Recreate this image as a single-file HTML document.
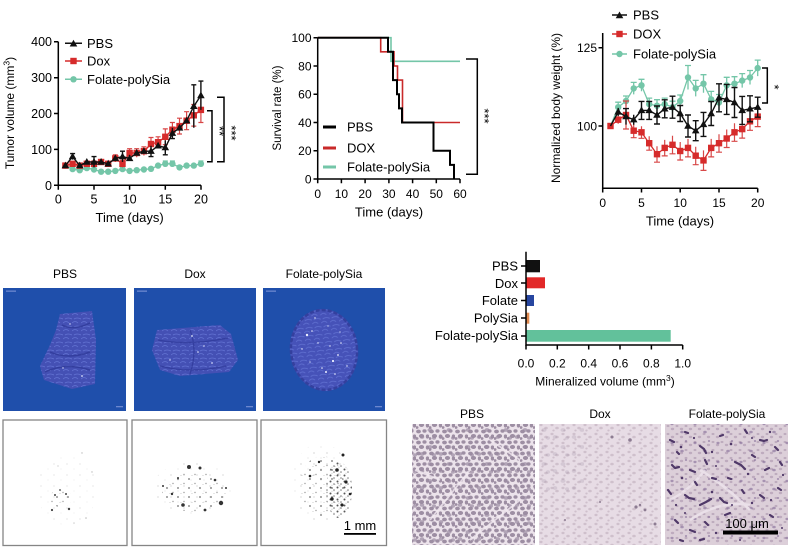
<!DOCTYPE html>
<html><head><meta charset="utf-8"><style>
html,body{margin:0;padding:0;background:#fff;}
svg{display:block;font-family:"Liberation Sans",Arial,sans-serif;}
</style></head><body>
<svg width="799" height="557" viewBox="0 0 799 557" xmlns="http://www.w3.org/2000/svg">
<defs>
<path id="tri" d="M0,-4 L3.8,2.7 L-3.8,2.7Z"/>
<rect id="sq" x="-3.2" y="-3.2" width="6.4" height="6.4"/>
<circle id="ci" r="3.2"/>
<pattern id="hpA" width="13" height="11" patternUnits="userSpaceOnUse">
<g fill="#8f7f97" fill-opacity="0.85">
<ellipse cx="2.5" cy="2.5" rx="2.4" ry="1.9"/><ellipse cx="8.5" cy="2" rx="2.1" ry="1.7"/><ellipse cx="5.5" cy="7" rx="2.6" ry="2"/><ellipse cx="11.5" cy="7.5" rx="1.7" ry="2.1"/><ellipse cx="1" cy="9.5" rx="1.5" ry="1.4"/></g></pattern>
<pattern id="hpB" width="19" height="17" patternUnits="userSpaceOnUse">
<g fill="#9a8aa2" fill-opacity="0.7"><ellipse cx="4" cy="12" rx="2.3" ry="1.9"/><ellipse cx="12" cy="5" rx="2.5" ry="1.9"/><ellipse cx="16" cy="13" rx="2" ry="1.7"/></g></pattern>
<pattern id="hdA" width="11" height="9" patternUnits="userSpaceOnUse">
<g fill="#cfc0cc"><ellipse cx="2" cy="2" rx="1.6" ry="1.2"/><ellipse cx="7" cy="5" rx="1.8" ry="1.3"/><ellipse cx="3.5" cy="7.5" rx="1.2" ry="1"/></g></pattern>
<pattern id="hfA" width="9" height="8" patternUnits="userSpaceOnUse">
<g fill="#b7a3b8" fill-opacity="0.8"><ellipse cx="2" cy="2" rx="1.5" ry="1.1"/><ellipse cx="6.5" cy="5" rx="1.7" ry="1.2"/></g></pattern>
<pattern id="hfB" width="23" height="19" patternUnits="userSpaceOnUse">
<g fill="#7a6090" fill-opacity="0.55"><ellipse cx="5" cy="6" rx="1.6" ry="1.2"/><ellipse cx="15" cy="14" rx="1.8" ry="1.3"/><ellipse cx="19" cy="4" rx="1.2" ry="1"/></g></pattern>
<pattern id="dpL" width="13" height="11" patternUnits="userSpaceOnUse">
<circle cx="2" cy="2" r="0.6" fill="#aaa"/><circle cx="9" cy="7" r="0.5" fill="#c2c2c2"/></pattern>
<pattern id="dpM" width="11" height="9" patternUnits="userSpaceOnUse">
<circle cx="2" cy="2" r="0.9" fill="#555"/><circle cx="8" cy="6.5" r="0.7" fill="#888"/><circle cx="5" cy="7.5" r="0.45" fill="#aaa"/></pattern>
<pattern id="dpD" width="7" height="6" patternUnits="userSpaceOnUse">
<circle cx="1.5" cy="1.5" r="1" fill="#3a3a3a"/><circle cx="5" cy="4" r="0.8" fill="#666"/><circle cx="3" cy="5.2" r="0.45" fill="#999"/></pattern>
<pattern id="bt" width="9" height="8" patternUnits="userSpaceOnUse">
<path d="M0,3 q3,-3 6,0 M2,7 q3,-2 7,0" stroke="#6272d2" stroke-width="0.8" fill="none"/></pattern>
</defs>

<!-- ================= Chart 1: Tumor volume ================= -->
<g>
<text transform="translate(14,113) rotate(-90)" font-size="12" text-anchor="middle">Tumor volume (mm<tspan font-size="8.5" dy="-4.5">3</tspan><tspan dy="4.5">)</tspan></text>
<g stroke="#000" stroke-width="1.5" fill="none">
<path d="M58.3,41.7 V185.3 H201"/>
<path d="M54,41.7 h4.3 M54,77.7 h4.3 M54,113.5 h4.3 M54,149.4 h4.3 M54,185.3 h4.3"/>
<path d="M58.3,185.3 v4.5 M94,185.3 v4.5 M129.6,185.3 v4.5 M165.3,185.3 v4.5 M201,185.3 v4.5"/>
</g>
<g font-size="12.5" text-anchor="end">
<text x="52" y="46.2">400</text><text x="52" y="82.2">300</text><text x="52" y="118">200</text><text x="52" y="153.9">100</text><text x="52" y="189.8">0</text>
</g>
<g font-size="12.5" text-anchor="middle">
<text x="58.3" y="203.5">0</text><text x="94" y="203.5">5</text><text x="129.6" y="203.5">10</text><text x="165.3" y="203.5">15</text><text x="201" y="203.5">20</text>
<text x="129.6" y="222" font-size="13">Time (days)</text>
</g>
<g stroke-width="1.5">
<line x1="65" y1="43.3" x2="82" y2="43.3" stroke="#111"/><use href="#tri" x="73.5" y="43.8" fill="#111"/>
<line x1="65" y1="61" x2="82" y2="61" stroke="#d62b2b"/><use href="#sq" x="73.5" y="61" fill="#d62b2b"/>
<line x1="65" y1="79.3" x2="82" y2="79.3" stroke="#74c6a8"/><use href="#ci" x="73.5" y="79.3" fill="#74c6a8"/>
</g>
<g font-size="13"><text x="87" y="47.8">PBS</text><text x="87" y="65.5">Dox</text><text x="87" y="83.8">Folate-polySia</text></g>
<g stroke="#74c6a8" fill="none" stroke-width="1.3">
<polyline points="65.4,165.6 72.6,169.1 79.7,170.2 86.8,168.1 94.0,169.5 101.1,171.7 108.2,171.7 115.3,170.9 122.5,169.1 129.6,170.9 136.7,170.2 143.9,169.5 151.0,168.8 158.1,165.6 165.3,163.8 172.4,163.8 179.5,167.4 186.6,165.6 193.8,165.6 200.9,163.8"/>
<path d="M158.1,163 v5.2 M165.3,161 v5.6 M172.4,161 v5.6 M179.5,164.8 v5.2 M193.8,163 v5.2 M200.9,161 v5.6 M162.8,161 h5 M169.9,161 h5 M198.4,161 h5"/>
</g>
<g fill="#74c6a8">
<use href="#ci" x="65.4" y="165.6"/><use href="#ci" x="72.6" y="169.1"/><use href="#ci" x="79.7" y="170.2"/><use href="#ci" x="86.8" y="168.1"/><use href="#ci" x="94.0" y="169.5"/><use href="#ci" x="101.1" y="171.7"/><use href="#ci" x="108.2" y="171.7"/><use href="#ci" x="115.3" y="170.9"/><use href="#ci" x="122.5" y="169.1"/><use href="#ci" x="129.6" y="170.9"/><use href="#ci" x="136.7" y="170.2"/><use href="#ci" x="143.9" y="169.5"/><use href="#ci" x="151.0" y="168.8"/><use href="#ci" x="158.1" y="165.6"/><use href="#ci" x="165.3" y="163.8"/><use href="#ci" x="172.4" y="163.8"/><use href="#ci" x="179.5" y="167.4"/><use href="#ci" x="186.6" y="165.6"/><use href="#ci" x="193.8" y="165.6"/><use href="#ci" x="200.9" y="163.8"/>
</g>
<g stroke="#d62b2b" fill="none" stroke-width="1.4">
<polyline points="65.4,165.6 72.6,163.8 79.7,165.6 86.8,163.8 94.0,163.8 101.1,162.0 108.2,163.8 115.3,158.4 122.5,163.8 129.6,153.0 136.7,153.0 143.9,151.2 151.0,144.0 158.1,142.2 165.3,136.8 172.4,129.7 179.5,126.1 186.6,120.7 193.8,115.3 200.9,109.9"/>
</g>
<g stroke="#d84545" fill="none" stroke-width="1.2">
<path d="M115.3,154.8 V162 M112.8,154.8 h5 M122.5,160.2 V167.4 M120,160.2 h5 M129.6,148.7 V157.3 M127.1,148.7 h5 M136.7,148.7 V157.3 M134.2,148.7 h5 M143.9,146.9 V155.5 M141.4,146.9 h5 M151,137.5 V150.5 M148.5,137.5 h5 M158.1,136.8 V147.6 M155.6,136.8 h5 M165.3,128.9 V144.7 M162.8,128.9 h5 M162.8,144.7 h5 M172.4,122.5 V136.9 M169.9,122.5 h5 M179.5,118.2 V134 M177,118.2 h5 M177,134 h5 M186.6,111.7 V129.7 M184.1,111.7 h5 M184.1,129.7 h5 M193.8,104.5 V126.1 M191.3,104.5 h5 M191.3,126.1 h5 M200.9,97.3 V122.5 M198.4,97.3 h5 M198.4,122.5 h5"/>
</g>
<g fill="#d62b2b">
<use href="#sq" x="65.4" y="165.6"/><use href="#sq" x="72.6" y="163.8"/><use href="#sq" x="79.7" y="165.6"/><use href="#sq" x="86.8" y="163.8"/><use href="#sq" x="94.0" y="163.8"/><use href="#sq" x="101.1" y="162.0"/><use href="#sq" x="108.2" y="163.8"/><use href="#sq" x="115.3" y="158.4"/><use href="#sq" x="122.5" y="163.8"/><use href="#sq" x="129.6" y="153.0"/><use href="#sq" x="136.7" y="153.0"/><use href="#sq" x="143.9" y="151.2"/><use href="#sq" x="151.0" y="144.0"/><use href="#sq" x="158.1" y="142.2"/><use href="#sq" x="165.3" y="136.8"/><use href="#sq" x="172.4" y="129.7"/><use href="#sq" x="179.5" y="126.1"/><use href="#sq" x="186.6" y="120.7"/><use href="#sq" x="193.8" y="115.3"/><use href="#sq" x="200.9" y="109.9"/>
</g>
<g stroke="#111" fill="none" stroke-width="1.4">
<polyline points="65.4,165.6 72.6,156.6 79.7,165.6 86.8,162.0 94.0,162.0 101.1,162.0 108.2,163.8 115.3,158.4 122.5,156.6 129.6,158.4 136.7,153.0 143.9,151.2 151.0,151.2 158.1,145.8 165.3,147.6 172.4,133.2 179.5,127.9 186.6,120.7 193.8,106.3 200.9,95.5"/>
<path d="M72.6,153.6 V159.6 M70.1,153.6 h5 M94,156.6 V167.4 M91.5,156.6 h5 M122.5,151.2 V162 M120,151.2 h5 M129.6,155 V161 M151,145.8 V156.6 M148.5,156.6 h5 M165.3,140.4 V154.8 M162.8,154.8 h5 M172.4,127.8 V138.6 M169.9,138.6 h5 M193.8,84.8 V127.8 M191.3,84.8 h5 M200.9,81.1 V109.9 M198.4,81.1 h5"/>
</g>
<g fill="#111">
<use href="#tri" x="65.4" y="165.6"/><use href="#tri" x="72.6" y="156.6"/><use href="#tri" x="79.7" y="165.6"/><use href="#tri" x="86.8" y="162.0"/><use href="#tri" x="94.0" y="162.0"/><use href="#tri" x="101.1" y="162.0"/><use href="#tri" x="108.2" y="163.8"/><use href="#tri" x="115.3" y="158.4"/><use href="#tri" x="122.5" y="156.6"/><use href="#tri" x="129.6" y="158.4"/><use href="#tri" x="136.7" y="153.0"/><use href="#tri" x="143.9" y="151.2"/><use href="#tri" x="151.0" y="151.2"/><use href="#tri" x="158.1" y="145.8"/><use href="#tri" x="165.3" y="147.6"/><use href="#tri" x="172.4" y="133.2"/><use href="#tri" x="179.5" y="127.9"/><use href="#tri" x="186.6" y="120.7"/><use href="#tri" x="193.8" y="106.3"/><use href="#tri" x="200.9" y="95.5"/>
</g>
<g stroke="#000" stroke-width="1.5" fill="none">
<path d="M207,110.7 H212 V161.7 H207"/>
<path d="M217,97.3 H224 V161.7 H217"/>
</g>
<text transform="translate(215,131) rotate(90)" font-size="13" text-anchor="middle">**</text>
<text transform="translate(227,133) rotate(90)" font-size="13" text-anchor="middle">***</text>
</g>

<!-- ================= Chart 2: Survival ================= -->
<g>
<text transform="translate(281,108) rotate(-90)" font-size="11.5" text-anchor="middle">Survival rate (%)</text>
<g stroke="#000" stroke-width="1.5" fill="none">
<path d="M317.7,37.7 V179 H460"/>
<path d="M313.5,37.7 h4.2 M313.5,66 h4.2 M313.5,94.2 h4.2 M313.5,122.5 h4.2 M313.5,150.7 h4.2 M313.5,179 h4.2"/>
<path d="M317.7,179 v4.2 M341.4,179 v4.2 M365.1,179 v4.2 M388.9,179 v4.2 M412.6,179 v4.2 M436.3,179 v4.2 M460,179 v4.2"/>
</g>
<g font-size="12" text-anchor="end">
<text x="311.5" y="42">100</text><text x="311.5" y="70.3">80</text><text x="311.5" y="98.5">60</text><text x="311.5" y="126.8">40</text><text x="311.5" y="155">20</text><text x="311.5" y="183.3">0</text>
</g>
<g font-size="12" text-anchor="middle">
<text x="317.7" y="198">0</text><text x="341.4" y="198">10</text><text x="365.1" y="198">20</text><text x="388.9" y="198">30</text><text x="412.6" y="198">40</text><text x="436.3" y="198">50</text><text x="460" y="198">60</text>
<text x="389" y="216.5" font-size="13">Time (days)</text>
</g>
<g fill="none">
<path d="M317.7,37.7 H391 V61.3 H460" stroke="#74c6a8" stroke-width="1.6"/>
<path d="M317.7,37.7 H380.7 V51.8 H394 V66 H397.5 V80.1 H402.5 V122.5 H460" stroke="#c92a2a" stroke-width="1.6"/>
<path d="M317.7,37.7 H388 V51.8 H393 V80.1 H397 V94.2 H399 V108.4 H402 V122.5 H433.5 V150.7 H450 V164.9 H454 V179" stroke="#000" stroke-width="2"/>
</g>
<g stroke-width="3">
<line x1="323" y1="127" x2="336" y2="127" stroke="#000"/>
<line x1="323" y1="148" x2="336" y2="148" stroke="#c92a2a"/>
<line x1="323" y1="167" x2="336" y2="167" stroke="#74c6a8"/>
</g>
<g font-size="13"><text x="347" y="131.5">PBS</text><text x="347" y="152.5">DOX</text><text x="347" y="171.5">Folate-polySia</text></g>
<path d="M466,59 H477.3 V174.3 H466" stroke="#000" stroke-width="1.5" fill="none"/>
<text transform="translate(480,116) rotate(90)" font-size="13" text-anchor="middle">***</text>
</g>

<!-- ================= Chart 3: Body weight ================= -->
<g>
<text transform="translate(560,108) rotate(-90)" font-size="12" text-anchor="middle">Normalized body weight (%)</text>
<g stroke="#000" stroke-width="1.5" fill="none">
<path d="M602.7,33 V188.3 H757.7"/>
<path d="M598.5,47.7 h4.2 M598.5,126 h4.2"/>
<path d="M602.7,188.3 v4.2 M641.5,188.3 v4.2 M680.2,188.3 v4.2 M719,188.3 v4.2 M757.7,188.3 v4.2"/>
</g>
<g font-size="12" text-anchor="end"><text x="597" y="52">125</text><text x="597" y="130.3">100</text></g>
<g font-size="12" text-anchor="middle">
<text x="602.7" y="207">0</text><text x="641.5" y="207">5</text><text x="680.2" y="207">10</text><text x="719" y="207">15</text><text x="757.7" y="207">20</text>
<text x="680" y="225.5" font-size="13">Time (days)</text>
</g>
<g stroke-width="1.5">
<line x1="612" y1="15" x2="627" y2="15" stroke="#111"/><use href="#tri" x="619.5" y="15.5" fill="#111"/>
<line x1="612" y1="34" x2="627" y2="34" stroke="#d62b2b"/><use href="#sq" x="619.5" y="34" fill="#d62b2b"/>
<line x1="612" y1="54" x2="627" y2="54" stroke="#74c6a8"/><use href="#ci" x="619.5" y="54" fill="#74c6a8"/>
</g>
<g font-size="13"><text x="633" y="19.5">PBS</text><text x="633" y="38.5">DOX</text><text x="633" y="58.5">Folate-polySia</text></g>
<g stroke="#74c6a8" fill="none" stroke-width="1.3">
<polyline points="610.5,126 618.2,107.2 626.0,101.0 633.7,88.4 641.5,85.3 649.2,104.1 657.0,105.7 664.7,104.1 672.5,107.2 680.2,101.0 688.0,77.5 695.7,88.4 703.5,83.7 711.2,99.4 719.0,102.5 726.7,85.3 734.5,83.7 742.2,80.6 750.0,77.5 757.7,68.1"/>
<path d="M618.2,102.2 V112.2 M615.2,102.2 h6 M626,96 V106 M623,96 h6 M633.7,82.4 V94.4 M630.7,82.4 h6 M641.5,79.3 V91.3 M638.5,79.3 h6 M649.2,98.1 V110.1 M646.2,98.1 h6 M657,99.7 V111.7 M654,99.7 h6 M664.7,98.1 V110.1 M661.7,98.1 h6 M672.5,101.2 V113.2 M669.5,101.2 h6 M680.2,95 V107 M677.2,95 h6 M688,65.5 V89.5 M685,65.5 h6 M695.7,80.4 V96.4 M692.7,80.4 h6 M703.5,74.7 V92.7 M700.5,74.7 h6 M711.2,91.4 V107.4 M708.2,91.4 h6 M719,94.5 V110.5 M716,94.5 h6 M726.7,77.3 V93.3 M723.7,77.3 h6 M734.5,76.7 V90.7 M731.5,76.7 h6 M742.2,73.6 V87.6 M739.2,73.6 h6 M750,70.5 V84.5 M747,70.5 h6 M757.7,60.1 V76.1 M754.7,60.1 h6"/>
</g>
<g fill="#74c6a8">
<use href="#ci" x="618.2" y="107.2"/><use href="#ci" x="626.0" y="101.0"/><use href="#ci" x="633.7" y="88.4"/><use href="#ci" x="641.5" y="85.3"/><use href="#ci" x="649.2" y="104.1"/><use href="#ci" x="657.0" y="105.7"/><use href="#ci" x="664.7" y="104.1"/><use href="#ci" x="672.5" y="107.2"/><use href="#ci" x="680.2" y="101.0"/><use href="#ci" x="688.0" y="77.5"/><use href="#ci" x="695.7" y="88.4"/><use href="#ci" x="703.5" y="83.7"/><use href="#ci" x="711.2" y="99.4"/><use href="#ci" x="719.0" y="102.5"/><use href="#ci" x="726.7" y="85.3"/><use href="#ci" x="734.5" y="83.7"/><use href="#ci" x="742.2" y="80.6"/><use href="#ci" x="750.0" y="77.5"/><use href="#ci" x="757.7" y="68.1"/>
</g>
<g stroke="#d62b2b" fill="none" stroke-width="1.3">
<polyline points="610.5,126 618.2,119.7 626.0,115.0 633.7,130.7 641.5,132.3 649.2,143.2 657.0,154.2 664.7,147.9 672.5,144.8 680.2,151.0 688.0,147.9 695.7,155.7 703.5,160.4 711.2,147.9 719.0,143.2 726.7,138.5 734.5,132.3 742.2,129.1 750.0,121.3 757.7,116.6"/>
</g>
<g stroke="#d84848" fill="none" stroke-width="1.2">
<path d="M618.2,115.7 V123.7 M626,101 V129 M623,101 h6 M623,129 h6 M633.7,123.7 V137.7 M630.7,137.7 h6 M641.5,126.3 V138.3 M638.5,138.3 h6 M649.2,136.2 V150.2 M646.2,150.2 h6 M657,146.2 V162.2 M654,162.2 h6 M664.7,139.9 V155.9 M661.7,155.9 h6 M672.5,135.8 V153.8 M669.5,153.8 h6 M680.2,142 V160 M677.2,160 h6 M688,138.9 V156.9 M685,156.9 h6 M695.7,146.7 V164.7 M692.7,164.7 h6 M703.5,150.4 V170.4 M700.5,170.4 h6 M711.2,138.9 V156.9 M708.2,156.9 h6 M719,134.2 V152.2 M716,152.2 h6 M726.7,129.5 V147.5 M723.7,147.5 h6 M734.5,123.3 V141.3 M731.5,141.3 h6 M742.2,120.1 V138.1 M739.2,138.1 h6 M750,112.3 V130.3 M747,130.3 h6 M757.7,106.6 V126.6 M754.7,126.6 h6"/>
</g>
<g fill="#d62b2b">
<use href="#sq" x="610.5" y="126"/><use href="#sq" x="618.2" y="119.7"/><use href="#sq" x="626.0" y="115.0"/><use href="#sq" x="633.7" y="130.7"/><use href="#sq" x="641.5" y="132.3"/><use href="#sq" x="649.2" y="143.2"/><use href="#sq" x="657.0" y="154.2"/><use href="#sq" x="664.7" y="147.9"/><use href="#sq" x="672.5" y="144.8"/><use href="#sq" x="680.2" y="151.0"/><use href="#sq" x="688.0" y="147.9"/><use href="#sq" x="695.7" y="155.7"/><use href="#sq" x="703.5" y="160.4"/><use href="#sq" x="711.2" y="147.9"/><use href="#sq" x="719.0" y="143.2"/><use href="#sq" x="726.7" y="138.5"/><use href="#sq" x="734.5" y="132.3"/><use href="#sq" x="742.2" y="129.1"/><use href="#sq" x="750.0" y="121.3"/><use href="#sq" x="757.7" y="116.6"/>
</g>
<g stroke="#111" fill="none" stroke-width="1.4">
<polyline points="610.5,126 618.2,111.9 626.0,116.6 633.7,119.7 641.5,110.4 649.2,110.4 657.0,115.0 664.7,108.8 672.5,107.2 680.2,113.5 688.0,126 695.7,130.7 703.5,124.4 711.2,113.5 719.0,97.8 726.7,99.4 734.5,102.5 742.2,110.4 750.0,108.8 757.7,107.2"/>
<path d="M618.2,107.9 V115.9 M626,108.6 V124.6 M623,108.6 h6 M633.7,114.7 V124.7 M641.5,101.4 V119.4 M638.5,101.4 h6 M638.5,119.4 h6 M649.2,101.4 V119.4 M646.2,101.4 h6 M646.2,119.4 h6 M657,106 V124 M654,106 h6 M654,124 h6 M664.7,99.8 V117.8 M661.7,99.8 h6 M661.7,117.8 h6 M672.5,96.2 V118.2 M669.5,96.2 h6 M669.5,118.2 h6 M680.2,105.5 V121.5 M677.2,105.5 h6 M677.2,121.5 h6 M688,115 V137 M685,115 h6 M685,137 h6 M695.7,120.7 V140.7 M692.7,120.7 h6 M692.7,140.7 h6 M703.5,112.4 V136.4 M700.5,112.4 h6 M700.5,136.4 h6 M711.2,101.5 V125.5 M708.2,101.5 h6 M708.2,125.5 h6 M719,83.8 V111.8 M716,83.8 h6 M716,111.8 h6 M726.7,84.4 V114.4 M723.7,84.4 h6 M723.7,114.4 h6 M734.5,87.5 V117.5 M731.5,87.5 h6 M731.5,117.5 h6 M742.2,96.4 V124.4 M739.2,96.4 h6 M739.2,124.4 h6 M750,95.8 V121.8 M747,95.8 h6 M747,121.8 h6 M757.7,97.2 V117.2 M754.7,97.2 h6 M754.7,117.2 h6"/>
</g>
<g fill="#111">
<use href="#tri" x="618.2" y="111.9"/><use href="#tri" x="626.0" y="116.6"/><use href="#tri" x="633.7" y="119.7"/><use href="#tri" x="641.5" y="110.4"/><use href="#tri" x="649.2" y="110.4"/><use href="#tri" x="657.0" y="115.0"/><use href="#tri" x="664.7" y="108.8"/><use href="#tri" x="672.5" y="107.2"/><use href="#tri" x="680.2" y="113.5"/><use href="#tri" x="688.0" y="126"/><use href="#tri" x="695.7" y="130.7"/><use href="#tri" x="703.5" y="124.4"/><use href="#tri" x="711.2" y="113.5"/><use href="#tri" x="719.0" y="97.8"/><use href="#tri" x="726.7" y="99.4"/><use href="#tri" x="734.5" y="102.5"/><use href="#tri" x="742.2" y="110.4"/><use href="#tri" x="750.0" y="108.8"/><use href="#tri" x="757.7" y="107.2"/>
</g>
<path d="M762,68 H767.3 V103 H762" stroke="#000" stroke-width="1.5" fill="none"/>
<text transform="translate(770,87) rotate(90)" font-size="13" text-anchor="middle">*</text>
</g>

<!-- ================= 3D micro-CT panels ================= -->
<g font-size="12" text-anchor="middle">
<text x="65" y="278">PBS</text><text x="195" y="278">Dox</text><text x="324" y="278">Folate-polySia</text>
</g>
<g fill="#1f4fab">
<rect x="3" y="288" width="123" height="123"/>
<rect x="134" y="288" width="122" height="123"/>
<rect x="263" y="288" width="122" height="123"/>
</g>
<g fill="#7f95d8" opacity="0.8">
<rect x="6" y="290.5" width="10" height="1.3"/><rect x="137" y="290.5" width="10" height="1.3"/><rect x="266" y="290.5" width="10" height="1.3"/>
<rect x="116" y="406" width="7" height="1.3"/><rect x="246" y="406" width="7" height="1.3"/><rect x="375" y="406" width="7" height="1.3"/>
</g>
<path d="M60,314 L92,311 L96,340 L95,384 L72,389 L44,380 L40,366 L50,345 L56,330Z" fill="#4450b4"/>
<path d="M60,314 L92,311 L96,340 L95,384 L72,389 L44,380 L40,366 L50,345 L56,330Z" fill="url(#bt)"/>
<path d="M45,372 q20,-10 45,-2 M50,352 q18,8 40,0 M62,325 q12,6 28,-2" stroke="#2f3a98" stroke-width="1.5" fill="none" opacity="0.8"/>
<g fill="#dfe4ff"><circle cx="82" cy="376" r="0.9"/><circle cx="63" cy="368" r="0.7"/><circle cx="70" cy="324" r="0.7"/></g>
<path d="M157,330 L220,325 L231,334 L238,360 L229,372 L180,376 L160,370 L152,350Z" fill="#4450b4"/>
<path d="M157,330 L220,325 L231,334 L238,360 L229,372 L180,376 L160,370 L152,350Z" fill="url(#bt)"/>
<path d="M158,340 q30,6 70,-2 M190,330 q8,20 0,44 M160,366 q30,8 66,0" stroke="#2f3a9a" stroke-width="1.3" fill="none" opacity="0.8"/>
<g fill="#e6eaff"><circle cx="192" cy="336" r="0.9"/><circle cx="198" cy="352" r="0.8"/><circle cx="212" cy="363" r="0.8"/><circle cx="170" cy="360" r="0.7"/><circle cx="204" cy="346" r="0.7"/></g>
<ellipse cx="324" cy="350" rx="34" ry="41" transform="rotate(-6 324 350)" fill="#4652b8"/>
<ellipse cx="324" cy="350" rx="34" ry="41" transform="rotate(-6 324 350)" fill="url(#bt)"/>
<ellipse cx="324" cy="350" rx="33" ry="40" transform="rotate(-6 324 350)" fill="none" stroke="#34409e" stroke-width="2.5" stroke-dasharray="4 2"/>
<g fill="#eef0ff"><circle cx="307" cy="335" r="1.2"/><circle cx="312" cy="331" r="0.8"/><circle cx="333" cy="361" r="1.1"/><circle cx="338" cy="355" r="0.9"/><circle cx="326" cy="372" r="1"/><circle cx="322" cy="368" r="0.8"/><circle cx="341" cy="343" r="0.8"/><circle cx="318" cy="343" r="0.7"/><circle cx="330" cy="346" r="0.7"/><circle cx="335" cy="374" r="0.8"/><circle cx="302" cy="349" r="0.7"/><circle cx="347" cy="366" r="0.7"/><circle cx="315" cy="318" r="0.7"/><circle cx="328" cy="326" r="0.6"/><circle cx="310" cy="362" r="0.6"/><circle cx="340" cy="332" r="0.6"/></g>

<!-- ================= Dot panels ================= -->
<g fill="#fff" stroke="#858585" stroke-width="1.3">
<rect x="3" y="420" width="124" height="125.5"/>
<rect x="132" y="420" width="125" height="125.5"/>
<rect x="261" y="420" width="125.5" height="125.5"/>
</g>
<ellipse cx="67" cy="490" rx="30" ry="35" fill="url(#dpL)" opacity="0.45"/>
<ellipse cx="61" cy="498" rx="11" ry="9" fill="url(#dpM)" opacity="0.8"/>
<g fill="#444"><circle cx="52" cy="510" r="1.1"/><circle cx="69" cy="509" r="1.2"/><circle cx="66" cy="494" r="1"/><circle cx="55" cy="495" r="1"/><circle cx="60" cy="490" r="0.9"/></g>
<g fill="#bbb"><circle cx="82" cy="453" r="0.7"/><circle cx="86" cy="518" r="0.8"/><circle cx="74" cy="523" r="0.6"/><circle cx="92" cy="472" r="0.7"/><circle cx="58" cy="466" r="0.6"/></g>
<ellipse cx="192" cy="488" rx="39" ry="26" fill="url(#dpL)" opacity="0.7"/>
<ellipse cx="194" cy="492" rx="32" ry="20" fill="url(#dpM)" opacity="0.85"/>
<g fill="#333"><circle cx="189" cy="467" r="2"/><circle cx="221" cy="503" r="2.2"/><circle cx="183" cy="505" r="1.8"/><circle cx="200" cy="468" r="1.5"/><circle cx="215" cy="480" r="1.3"/><circle cx="172" cy="494" r="1.2"/><circle cx="205" cy="510" r="1.4"/><circle cx="163" cy="486" r="1"/><circle cx="178" cy="478" r="1"/><circle cx="226" cy="488" r="1"/></g>
<ellipse cx="321" cy="482" rx="29" ry="39" fill="url(#dpL)" opacity="0.8"/>
<ellipse cx="322" cy="486" rx="22" ry="30" fill="url(#dpM)" opacity="0.85"/>
<ellipse cx="339" cy="490" rx="13" ry="28" fill="url(#dpD)" opacity="0.85"/>
<g fill="#222"><circle cx="343" cy="455" r="1.5"/><circle cx="337" cy="470" r="1.8"/><circle cx="346" cy="482" r="1.6"/><circle cx="332" cy="499" r="1.7"/><circle cx="342" cy="505" r="1.6"/><circle cx="310" cy="476" r="1.3"/><circle cx="319" cy="462" r="1.2"/><circle cx="350" cy="494" r="1.3"/></g>
<text x="360" y="530" font-size="13" text-anchor="middle">1 mm</text>
<rect x="344" y="533" width="32" height="1.8" fill="#000"/>

<!-- ================= Bar chart ================= -->
<g>
<rect x="526" y="260" width="14" height="12.3" fill="#111"/>
<rect x="526" y="277.3" width="19" height="11" fill="#e22828"/>
<rect x="526" y="295" width="8" height="11" fill="#2746a0"/>
<rect x="526" y="312.7" width="3.3" height="11" fill="#e08a50"/>
<rect x="526" y="330" width="144.7" height="11.7" fill="#62c19b"/>
<g stroke="#000" stroke-width="1.5" fill="none">
<path d="M526,251.7 V345 H682.7"/>
<path d="M521,266 h5 M521,283 h5 M521,300.5 h5 M521,318 h5 M521,336 h5"/>
<path d="M526,345 v4.5 M557.3,345 v4.5 M588.7,345 v4.5 M620,345 v4.5 M651.4,345 v4.5 M682.7,345 v4.5"/>
</g>
<g font-size="13" text-anchor="end">
<text x="518" y="270.5">PBS</text><text x="518" y="287.8">Dox</text><text x="518" y="304.8">Folate</text><text x="518" y="322.3">PolySia</text><text x="518" y="339.8">Folate-polySia</text>
</g>
<g font-size="12" text-anchor="middle">
<text x="526" y="367.5">0.0</text><text x="557.3" y="367.5">0.2</text><text x="588.7" y="367.5">0.4</text><text x="620" y="367.5">0.6</text><text x="651.4" y="367.5">0.8</text><text x="682.7" y="367.5">1.0</text>
<text x="605" y="385.5">Mineralized volume (mm<tspan font-size="8.5" dy="-4.5">3</tspan><tspan dy="4.5">)</tspan></text>
</g>
</g>

<!-- ================= Histology ================= -->
<g font-size="12" text-anchor="middle">
<text x="472" y="418">PBS</text><text x="600" y="418">Dox</text><text x="727" y="418">Folate-polySia</text>
</g>
<rect x="412" y="424" width="123" height="121" fill="#ece3eb"/>
<rect x="412" y="424" width="123" height="121" fill="url(#hpA)"/>
<rect x="412" y="424" width="123" height="121" fill="url(#hpB)"/>
<path d="M430,520 l40,-50 M470,540 l50,-40 M490,440 l30,20 M415,470 l25,10" stroke="#f2eaf1" stroke-width="1.8" fill="none" opacity="0.8"/>

<rect x="539" y="424" width="122" height="121" fill="#e7dce5"/>
<rect x="539" y="424" width="122" height="121" fill="url(#hdA)"/>
<rect x="539" y="424" width="45" height="70" fill="url(#hpB)" opacity="0.35"/>
<g fill="#8d7c92"><circle cx="612" cy="437" r="1.5"/><circle cx="630" cy="440" r="1.8"/><circle cx="636" cy="507" r="1.6"/><circle cx="640" cy="505" r="1.2"/><circle cx="645" cy="510" r="1.4"/><circle cx="600" cy="502" r="1"/><circle cx="655" cy="524" r="1.5"/><circle cx="565" cy="520" r="1"/></g>

<rect x="665" y="424" width="123" height="121" fill="#dccfd9"/>
<rect x="665" y="424" width="123" height="121" fill="url(#hfA)"/>
<rect x="665" y="424" width="123" height="121" fill="url(#hfB)"/>
<path d="M690,520 q30,-20 60,-15 M700,470 q25,15 50,40 M670,500 q20,-10 35,-30" stroke="#efe6ee" stroke-width="2.5" fill="none" opacity="0.75"/>
<g stroke="#4f3868" stroke-width="2.2" stroke-linecap="round" stroke-linejoin="round" fill="none">
<path d="M670,440 l4,2 M685,432 l3,1 M700,446 l4,3 l2,4 M720,436 l3,-1 M745,430 l2,3 M760,440 l4,1 l3,-1 M775,447 l3,3 M672,465 l3,3 l4,-1 M690,470 l5,2 M705,460 l2,4 M735,462 l6,3 l4,4 M765,470 l4,-2 M780,462 l2,3 M668,490 l3,4 M685,495 l4,3 l5,1 M700,505 l6,-3 l5,-3 M720,498 l4,4 l3,1 M742,490 l2,3 M760,495 l4,3 M778,488 l3,2 M675,520 l3,3 M690,530 l5,2 M705,522 l3,3 M725,515 l5,-2 M770,515 l3,2 M680,540 l3,1 M700,540 l4,-1 M677,452 l2,2 M728,478 l3,1 M752,455 l3,2 M695,482 l2,3 M712,478 l4,1"/>
</g>
<g fill="#4f3868">
<circle cx="681" cy="447" r="1.3"/><circle cx="694" cy="438" r="1.1"/><circle cx="712" cy="452" r="1.2"/><circle cx="731" cy="444" r="1.3"/><circle cx="752" cy="438" r="1"/><circle cx="770" cy="432" r="1.2"/><circle cx="783" cy="475" r="1.1"/><circle cx="682" cy="478" r="1.3"/><circle cx="716" cy="466" r="1"/><circle cx="748" cy="474" r="1.2"/><circle cx="676" cy="505" r="1.1"/><circle cx="712" cy="492" r="1.3"/><circle cx="732" cy="505" r="1"/><circle cx="752" cy="503" r="1.2"/><circle cx="771" cy="500" r="1.1"/><circle cx="685" cy="513" r="1"/><circle cx="716" cy="533" r="1.2"/><circle cx="740" cy="540" r="1"/><circle cx="760" cy="525" r="1.1"/><circle cx="782" cy="528" r="1"/></g>
<text x="747" y="528" font-size="13" text-anchor="middle">100 μm</text>
<rect x="723" y="530.5" width="55" height="4" fill="#000"/>
</svg>
</body></html>
